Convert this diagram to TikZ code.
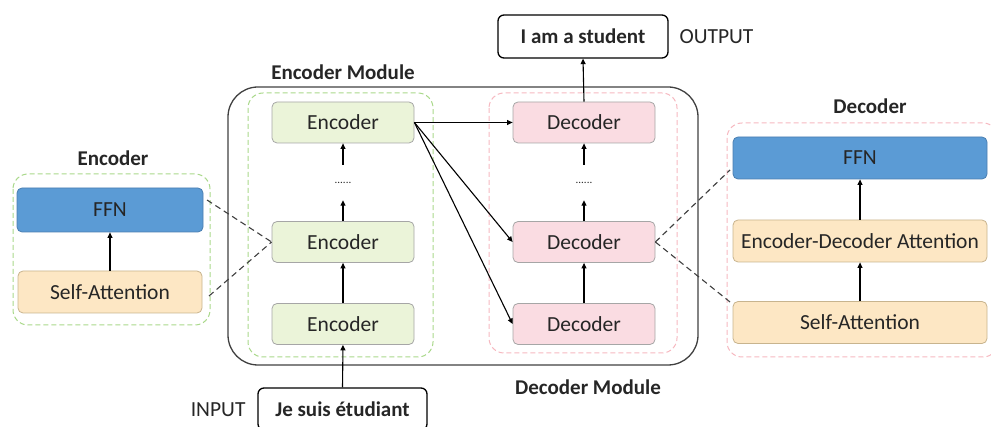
\documentclass[tikz,border=0pt]{standalone}
\usepackage{fontspec}
\setmainfont{Carlito}
\usetikzlibrary{arrows.meta}

\definecolor{txt}{HTML}{262626}
\definecolor{boxline}{HTML}{A6A6A6}
\definecolor{encfill}{HTML}{EBF4D9}
\definecolor{decfill}{HTML}{FADCE2}
\definecolor{ffnfill}{HTML}{5B9BD5}
\definecolor{ffnline}{HTML}{4A7EB0}
\definecolor{attfill}{HTML}{FDE7C4}
\definecolor{attline}{HTML}{C8B48E}
\definecolor{greendash}{HTML}{A9D88A}
\definecolor{pinkdash}{HTML}{F6B8C0}
\definecolor{frame}{HTML}{404040}

\tikzset{
  lbl/.style={font=\fontsize{21.5}{25}\selectfont, text=txt},
  ttl/.style={font=\fontsize{21}{25}\selectfont\bfseries, text=txt},
  block/.style={lbl, rounded corners=5pt, line width=0.8pt, inner sep=0pt},
  encbox/.style={block, draw=boxline, fill=encfill, minimum width=142pt, minimum height=41pt},
  decbox/.style={block, draw=boxline, fill=decfill, minimum width=142pt, minimum height=41pt},
  ffnbox/.style={block, draw=ffnline, fill=ffnfill},
  attbox/.style={block, draw=attline, fill=attfill},
  iobox/.style={ttl, draw=black, rounded corners=6pt, line width=1.3pt, inner sep=0pt},
  dotsnode/.style={font=\fontsize{11}{13}\selectfont, text=txt, minimum height=35pt, inner sep=0pt},
  flow/.style={line width=1.1pt, -{Triangle[length=5.5pt,width=5pt]}},
  grp/.style={dashed, dash pattern=on 5pt off 3pt, line width=1pt, rounded corners=15pt},
  link/.style={dashed, dash pattern=on 6pt off 4pt, line width=1.1pt, draw=frame}
}

\begin{document}
\begin{tikzpicture}[x=1pt,y=-1pt]
\useasboundingbox (0,0) rectangle (991,427);

% module frame and group outlines
\draw[line width=1.3pt, draw=frame, rounded corners=30pt] (228,87) rectangle (698,365);
\draw[grp, draw=greendash] (248,93) rectangle (433,357);
\draw[grp, draw=pinkdash] (489,93) rectangle (677,353);
\draw[grp, draw=greendash] (13,174) rectangle (210,325);
\draw[grp, draw=pinkdash] (727,123) rectangle (998,357);

% titles
\node[ttl] (tEnc) at (113,158) {Encoder};
\node[ttl] (tEncMod) at (343,72) {Encoder Module};
\node[ttl] (tDecMod) at (588,387) {Decoder Module};
\node[ttl] (tDec) at (870,106) {Decoder};

% encoder stack
\node[encbox] (e1) at (343,122.5) {Encoder};
\node[dotsnode] (ed) at (343,182.5) {......};
\node[encbox] (e2) at (343,242) {Encoder};
\node[encbox] (e3) at (343,324) {Encoder};

% decoder stack
\node[decbox] (d1) at (584,122.5) {Decoder};
\node[dotsnode] (dd) at (584,182.5) {......};
\node[decbox] (d2) at (584,242) {Decoder};
\node[decbox] (d3) at (584,324) {Decoder};

% input / output
\node[iobox, minimum width=170pt, minimum height=43pt] (out) at (583,36.5) {I am a student};
\node[lbl, anchor=west] (outl) at (676,37) {OUTPUT};
\node[iobox, minimum width=169pt, minimum height=42pt] (in) at (342.5,409) {Je suis étudiant};
\node[lbl, anchor=east] (inl) at (249,410) {INPUT};

% encoder detail
\node[ffnbox, minimum width=186pt, minimum height=44pt] (effn) at (110,210) {FFN};
\node[attbox, minimum width=184pt, minimum height=42pt] (eatt) at (110,292) {Self-Attention};

% decoder detail
\node[ffnbox, minimum width=254pt, minimum height=42pt] (dffn) at (860,158) {FFN};
\node[attbox, minimum width=254pt, minimum height=42pt] (dcross) at (860,241) {Encoder-Decoder Attention};
\node[attbox, minimum width=254pt, minimum height=42pt] (datt) at (860,322.5) {Self-Attention};

% data flow
\draw[flow] (in.north) -- (e3.south);
\draw[flow] (e3.north) -- (e2.south);
\draw[flow] (e2.north) -- (ed.south);
\draw[flow] (ed.north) -- (e1.south);
\draw[flow] (d3.north) -- (d2.south);
\draw[flow] (d2.north) -- (dd.south);
\draw[flow] (dd.north) -- (d1.south);
\draw[flow] (d1.north) -- (out.south);
\draw[flow] (e1.east) -- (d1.west);
\draw[flow] (e1.east) -- (d2.west);
\draw[flow] (e1.east) -- (d3.west);
\draw[flow] (eatt.north) -- (effn.south);
\draw[flow] (datt.north) -- (dcross.south);
\draw[flow] (dcross.north) -- (dffn.south);

% zoom-in links
\coordinate (lu) at (207,200);
\coordinate (ll) at (209,296);
\coordinate (ru) at (730,170);
\coordinate (rl) at (730,302);
\draw[link] (lu) -- (e2.west);
\draw[link] (ll) -- (e2.west);
\draw[link] (d2.east) -- (ru);
\draw[link] (d2.east) -- (rl);
\end{tikzpicture}
\end{document}
